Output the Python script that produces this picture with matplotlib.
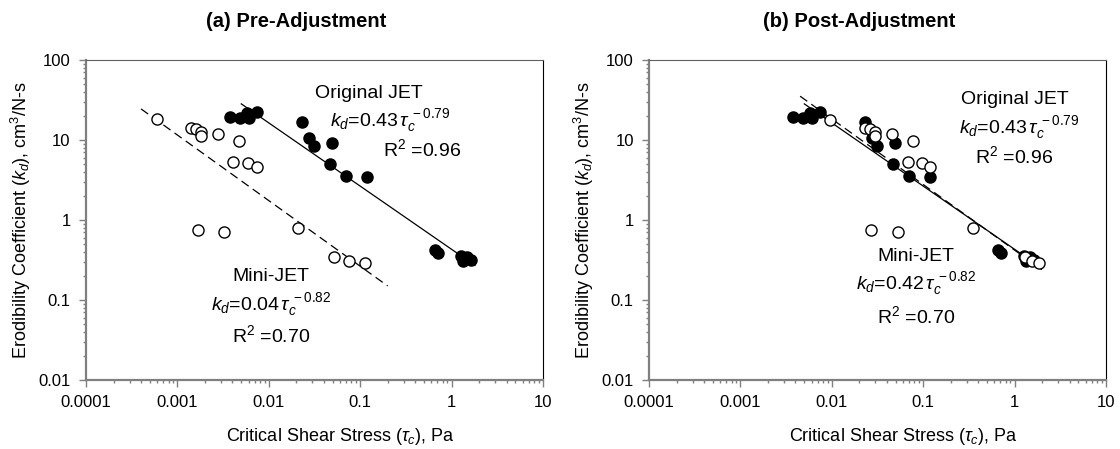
import numpy as np
import matplotlib.pyplot as plt

plt.rcParams['font.family'] = ['Liberation Sans', 'DejaVu Sans']
plt.rcParams['mathtext.fontset'] = 'custom'
plt.rcParams['mathtext.rm'] = 'Liberation Sans'
plt.rcParams['mathtext.it'] = 'Liberation Sans:italic'

# ---- data ----
# Original JET (same in both panels)
orig_tau = [0.0038, 0.0048, 0.0058, 0.0060, 0.0074, 0.0233, 0.0275, 0.0312, 0.0488,
            0.0468, 0.0693, 0.1175, 0.658, 0.716, 1.26, 1.34, 1.48, 1.62]
orig_kd = [19.3, 19.1, 21.6, 19.1, 22.2, 16.9, 10.5, 8.4, 9.1,
           5.0, 3.55, 3.42, 0.42, 0.39, 0.35, 0.31, 0.34, 0.32]

# Mini-JET before adjustment
mini_tau_pre = [0.0006, 0.00141, 0.0016, 0.0018, 0.0018, 0.0028, 0.0047, 0.0041,
                0.0059, 0.0074, 0.0017, 0.0032, 0.021, 0.052, 0.076, 0.112]
mini_kd_pre = [18.5, 14.0, 13.6, 12.6, 11.2, 11.9, 9.7, 5.3,
               5.1, 4.6, 0.75, 0.70, 0.79, 0.34, 0.31, 0.29]

# Mini-JET after adjustment
mini_tau_post = [0.0095, 0.023, 0.026, 0.030, 0.030, 0.046, 0.078, 0.068,
                 0.097, 0.12, 0.027, 0.053, 0.35, 1.30, 1.55, 1.85]
mini_kd_post = [18.0, 14.3, 13.8, 12.6, 11.2, 11.9, 9.8, 5.3,
                5.1, 4.6, 0.75, 0.70, 0.80, 0.34, 0.31, 0.29]

# fitted power laws: coefficient, exponent, tau range
orig_fit = (0.43, -0.79, 0.005, 1.8)
mini_fit_pre = (0.04, -0.82, 0.0004, 0.2)
mini_fit_post = (0.42, -0.82, 0.0045, 2.0)

x_ticks = [0.0001, 0.001, 0.01, 0.1, 1, 10]
x_ticklabels = ['0.0001', '0.001', '0.01', '0.1', '1', '10']
y_ticks = [0.01, 0.1, 1, 10, 100]
y_ticklabels = ['0.01', '0.1', '1', '10', '100']


def fit_line(ax, fit, ls):
    a, b, x0, x1 = fit
    xs = np.array([x0, x1])
    ax.plot(xs, a * xs ** b, color='black', lw=0.9, ls=ls, zorder=2)


def style_axes(ax):
    ax.set_xscale('log')
    ax.set_yscale('log')
    ax.set_xlim(0.0001, 10)
    ax.set_ylim(0.01, 100)
    ax.set_xticks(x_ticks)
    ax.set_xticklabels(x_ticklabels)
    ax.set_yticks(y_ticks)
    ax.set_yticklabels(y_ticklabels)
    for s in ['left', 'bottom']:
        ax.spines[s].set_color('#808080')
        ax.spines[s].set_linewidth(1.6)
    for s in ['top', 'right']:
        ax.spines[s].set_color('black')
        ax.spines[s].set_linewidth(0.8)
    ax.spines['top'].set_color('#606060')
    ax.tick_params(which='both', direction='out', color='#808080', width=1.0,
                   labelsize=12, top=False, right=False)
    ax.tick_params(which='major', length=5, pad=6)
    ax.tick_params(which='minor', length=2.5)
    ax.set_xlabel(r'Critical Shear Stress ($\tau_c$), Pa', fontsize=13)
    ax.set_ylabel(r'Erodibility Coefficient ($k_d$), cm$^3$/N-s', fontsize=13)
    ax.xaxis.set_label_coords(0.556, -0.145)
    ax.yaxis.set_label_coords(-0.116, 0.5)


fig = plt.figure(figsize=(11.2, 4.49), dpi=100)
ax1 = fig.add_axes([0.0768, 0.1537, 0.408, 0.7127])
ax2 = fig.add_axes([0.5795, 0.1537, 0.408, 0.7127])

for ax, mt, mk, mfit, title in [
        (ax1, mini_tau_pre, mini_kd_pre, mini_fit_pre, '(a) Pre-Adjustment'),
        (ax2, mini_tau_post, mini_kd_post, mini_fit_post, '(b) Post-Adjustment')]:
    style_axes(ax)
    fit_line(ax, orig_fit, '-')
    fit_line(ax, mfit, (0, (7, 4)))
    ax.plot(orig_tau, orig_kd, 'o', ms=8, mfc='black', mec='black', mew=1, zorder=3)
    ax.plot(mt, mk, 'o', ms=8, mfc='white', mec='black', mew=1, zorder=4)
    ax.text(0.46, 1.12, title, transform=ax.transAxes, ha='center', va='center',
            fontsize=14.5, fontweight='bold')

# annotations (pixel positions converted to axes fraction)
def ann(ax, x, y, s):
    ax.text(x, y, s, transform=ax.transAxes, ha='center', va='center', fontsize=14)

ann(ax1, 0.62, 0.895, 'Original JET')
ann(ax1, 0.665, 0.81, r'$k_d$=0.43$\,\tau_c^{\,-0.79}$')
ann(ax1, 0.735, 0.72, r'R$^2$ =0.96')
ann(ax1, 0.405, 0.322, 'Mini-JET')
ann(ax1, 0.405, 0.235, r'$k_d$=0.04$\,\tau_c^{\,-0.82}$')
ann(ax1, 0.405, 0.14, r'R$^2$ =0.70')

ann(ax2, 0.80, 0.875, 'Original JET')
ann(ax2, 0.81, 0.79, r'$k_d$=0.43$\,\tau_c^{\,-0.79}$')
ann(ax2, 0.80, 0.70, r'R$^2$ =0.96')
ann(ax2, 0.585, 0.385, 'Mini-JET')
ann(ax2, 0.585, 0.30, r'$k_d$=0.42$\,\tau_c^{\,-0.82}$')
ann(ax2, 0.585, 0.20, r'R$^2$ =0.70')

fig.savefig('out.png', dpi=100)
